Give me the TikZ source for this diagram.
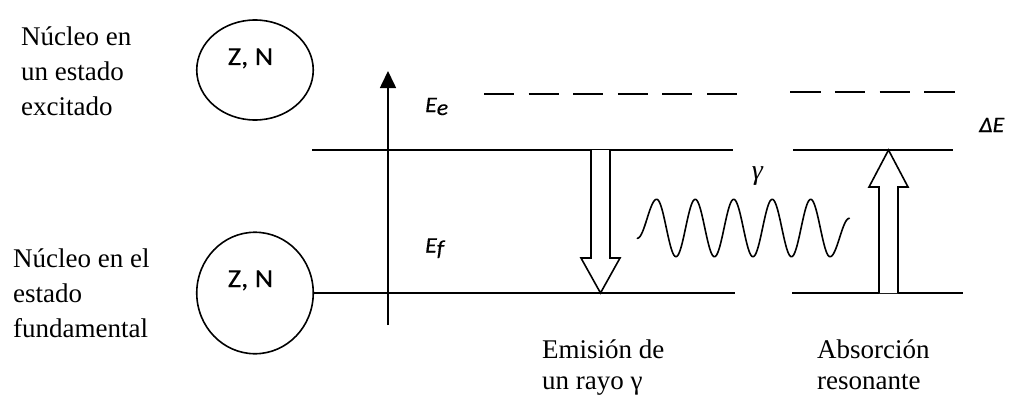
\documentclass[tikz,border=0pt]{standalone}
\usepackage{fontspec}
\usepackage{graphicx}
\setmainfont{Liberation Serif}
\newfontfamily\calib{Carlito}[FakeBold=0.4]
\usetikzlibrary{arrows.meta,shapes.geometric}
\tikzset{
  ln/.style={line width=1.6pt},
  nuc/.style={ellipse, draw, line width=1.6pt, inner sep=0pt},
  zn/.style={inner sep=0pt, anchor=base, font=\calib\fontsize{26}{28}\selectfont},
  txt/.style={inner sep=0pt, anchor=base west, font=\fontsize{27}{35}\selectfont},
  txtb/.style={inner sep=0pt, anchor=base west, font=\fontsize{27}{31}\selectfont},
  elab/.style={inner sep=0pt, anchor=base west, font=\calib\itshape\fontsize{22}{24}\selectfont},
  dashA/.style={line width=1.6pt, dash pattern=on 30pt off 14.6pt},
  dashB/.style={line width=1.6pt, dash pattern=on 30.5pt off 14.3pt},
  hollow/.style={line width=1.6pt, fill=white, line join=miter}
}
\begin{document}
\begin{tikzpicture}[x=1pt,y=-1pt]
\useasboundingbox (0,0) rectangle (1028,396);
% nuclei
\node[nuc, minimum width=116.5pt, minimum height=100pt] (n1) at (255,70) {};
\node[nuc, minimum width=116.5pt, minimum height=121.5pt] (n2) at (255,293) {};
\node[zn] (z1) at (250.5,65) {\scalebox{1.1}[1]{Z, N}};
\node[zn] (z2) at (250.5,287) {\scalebox{1.1}[1]{Z, N}};
% side texts
\node[txt] (t1) at (21,46) {\parbox[t]{200pt}{\raggedright Núcleo en\\un estado\\excitado}};
\node[txt] (t2) at (13,267.5) {\parbox[t]{200pt}{\raggedright Núcleo en el\\estado\\fundamental}};
\node[txtb] (t3) at (542,358) {\parbox[t]{180pt}{\raggedright Emisión de\\un rayo γ}};
\node[txtb] (t4) at (817,358) {\parbox[t]{180pt}{\raggedright Absorción\\resonante}};
% coordinates
\coordinate (ax0) at (388,325);
\coordinate (ax1) at (388,71);
\coordinate (uL) at (312,150);
\coordinate (uR) at (733,150);
\coordinate (lR) at (735,293);
\coordinate (ruL) at (793,150);
\coordinate (ruR) at (953,150);
\coordinate (rlL) at (792,293);
\coordinate (rlR) at (963,293);
\coordinate (dL1) at (484,94);
\coordinate (dR1) at (737,94);
\coordinate (dL2) at (790,92);
\coordinate (dR2) at (955,92);
% axis
\draw[ln, -{Triangle[width=16pt,length=17pt]}] (ax0) -- (ax1);
% levels
\draw[ln] (uL) -- (uR);
\draw[ln] (n2.east) -- (lR);
\draw[ln] (ruL) -- (ruR);
\draw[ln] (rlL) -- (rlR);
\draw[dashA] (dL1) -- (dR1);
\draw[dashB] (dL2) -- (dR2);
% labels
\node[elab] (ee) at (425,112) {\scalebox{1.08}[1]{E\raisebox{-3pt}{e}}};
\node[elab] (ef) at (425,252.5) {\scalebox{1.08}[1]{E\raisebox{-3pt}{f}}};
\node[elab] (de) at (979,132) {\scalebox{1.08}[1]{ΔE}};
\node[inner sep=0pt, font=\itshape\fontsize{28}{30}\selectfont] (gam) at (757.5,176) {γ};
% hollow arrows
\draw[hollow] (591,150) -- (591,258) -- (581,258) -- (600.5,293) -- (620,258) -- (610,258) -- (610,150);
\draw[hollow] (879,293) -- (879,187) -- (869,187) -- (888.5,150) -- (908,187) -- (898,187) -- (898,293);
% wave
\draw[ln, line join=round, line cap=round]
  plot[domain=637.3:656.7, samples=30] (\x, {218.8 - 19.5*cos((180/19.4)*(\x-656.7))})
  -- plot[domain=656.7:830, samples=240] (\x, {228 - 28.7*cos((360/38.5)*(\x-656.7))})
  -- plot[domain=830:849.3, samples=30] (\x, {237.5 + 19.2*cos((180/19.3)*(\x-830))});
\end{tikzpicture}
\end{document}
